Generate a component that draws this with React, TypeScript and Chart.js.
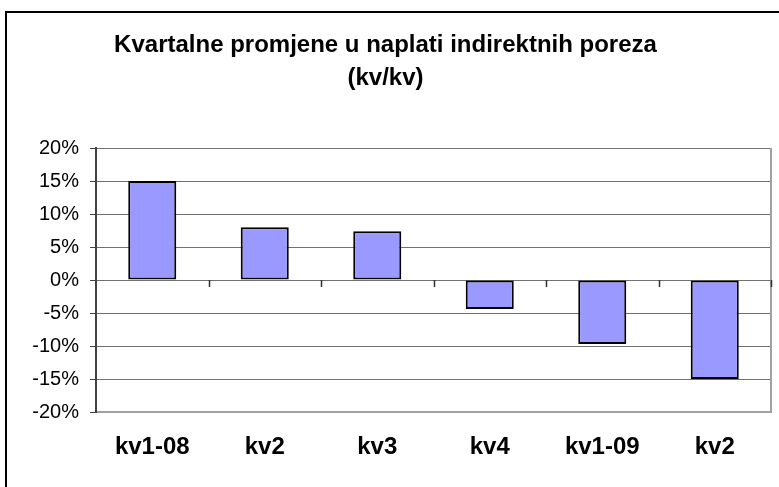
import React, { useEffect, useRef } from "react";
import { Chart, registerables } from "chart.js";

Chart.register(...registerables);

const titleLines = ["Kvartalne promjene u naplati indirektnih poreza", "(kv/kv)"];
const categories = ["kv1-08", "kv2", "kv3", "kv4", "kv1-09", "kv2"];
const changes = [15, 8, 7.4, -4.4, -9.7, -15];
const yMin = -20;
const yMax = 20;
const yStep = 5;

const FONT = "'Liberation Sans', Arial, Helvetica, sans-serif";

const framePlugin = {
  id: "frameAndTicks",
  afterDraw(chart: any) {
    const { ctx, chartArea, scales } = chart;
    const y0 = scales.y.getPixelForValue(0);
    const n = categories.length;
    const w = (chartArea.right - chartArea.left) / n;
    ctx.save();
    ctx.strokeStyle = "#a0a0a0";
    ctx.lineWidth = 2;
    ctx.beginPath();
    ctx.moveTo(chartArea.right, chartArea.top);
    ctx.lineTo(chartArea.right, chartArea.bottom + 1);
    ctx.stroke();
    ctx.strokeStyle = "#303030";
    ctx.lineWidth = 1.5;
    for (let i = 1; i <= n; i++) {
      const x = Math.round(chartArea.left + i * w) + 0.5;
      ctx.beginPath();
      ctx.moveTo(x, y0);
      ctx.lineTo(x, y0 + 7);
      ctx.stroke();
    }
    ctx.restore();
  },
};

export default function App() {
  const ref = useRef<HTMLCanvasElement | null>(null);

  useEffect(() => {
    if (!ref.current) return;
    const chart = new Chart(ref.current, {
      type: "bar",
      data: {
        labels: categories,
        datasets: [
          {
            data: changes,
            backgroundColor: "#9999ff",
            borderColor: "#000000",
            borderWidth: 2,
            borderSkipped: false,
            barPercentage: 0.427,
            categoryPercentage: 1,
          },
        ],
      },
      options: {
        responsive: false,
        animation: false,
        layout: { padding: { left: 0, right: 8, top: 0, bottom: 0 } },
        plugins: {
          legend: { display: false },
          tooltip: { enabled: false },
          title: {
            display: true,
            text: titleLines,
            color: "#000000",
            font: { family: FONT, size: 24, weight: "bold", lineHeight: 1.375 },
            padding: { top: 29, bottom: 53 },
          },
        },
        scales: {
          x: {
            grid: { display: false, drawTicks: false },
            border: { display: true, color: "#a0a0a0", width: 2 },
            ticks: {
              color: "#000000",
              font: { family: FONT, size: 24, weight: "bold" },
              padding: 21,
              maxRotation: 0,
              autoSkip: false,
            },
            afterFit: (scale: any) => {
              scale.height = 75;
            },
          },
          y: {
            min: yMin,
            max: yMax,
            ticks: {
              stepSize: yStep,
              color: "#000000",
              font: { family: FONT, size: 20 },
              padding: 11,
              callback: (v: any) => `${v}%`,
            },
            grid: {
              color: "#707070",
              lineWidth: 1,
              tickLength: 6,
              tickColor: "#404040",
            },
            border: { display: true, color: "#404040", width: 2 },
            afterFit: (scale: any) => {
              scale.width = 96;
            },
          },
        },
      },
      plugins: [framePlugin],
    });
    return () => chart.destroy();
  }, []);

  return (
    <div
      style={{
        position: "absolute",
        left: 0,
        top: 0,
        width: 779,
        height: 487,
        overflow: "hidden",
        background: "#ffffff",
      }}
    >
      <div
        style={{
          position: "absolute",
          left: 5,
          top: 11,
          width: 900,
          height: 600,
          border: "2px solid #000000",
          boxSizing: "border-box",
        }}
      />
      <canvas
        ref={ref}
        width={779}
        height={487}
        style={{ position: "absolute", left: 0, top: 0, width: 779, height: 487 }}
      />
    </div>
  );
}
